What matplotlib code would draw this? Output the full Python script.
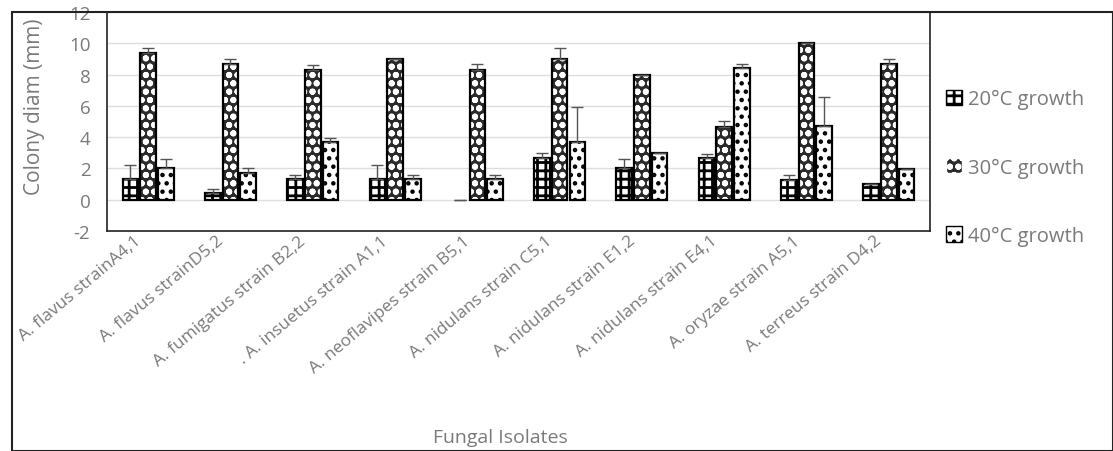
import numpy as np
import matplotlib
matplotlib.use("Agg")
import matplotlib.pyplot as plt
import matplotlib.transforms as mtransforms
from matplotlib.patches import Rectangle

isolates = ["A. flavus strainA4,1", "A. flavus strainD5,2", "A. fumigatus strain B2,2",
            ". A. insuetus strain A1,1", "A. neoflavipes strain B5,1", "A. nidulans strain C5,1",
            "A. nidulans strain E1,2", "A. nidulans strain E4,1", "A. oryzae strain A5,1",
            "A. terreus strain D4,2"]

growth_20 = [1.35, 0.4, 1.3, 1.3, 0.0, 2.65, 2.0, 2.65, 1.25, 1.0]
growth_30 = [9.35, 8.7, 8.3, 9.0, 8.3, 9.0, 8.0, 4.65, 10.0, 8.7]
growth_40 = [2.0, 1.7, 3.7, 1.3, 1.3, 3.7, 3.0, 8.4, 4.7, 1.95]

err_20 = [0.85, 0.3, 0.3, 0.9, 0.0, 0.35, 0.6, 0.3, 0.35, 0.0]
err_30 = [0.35, 0.3, 0.3, 0.0, 0.4, 0.7, 0.0, 0.4, 0.0, 0.3]
err_40 = [0.6, 0.3, 0.25, 0.3, 0.3, 2.2, 0.0, 0.3, 1.85, 0.0]

plt.rcParams['font.family'] = ['Open Sans', 'DejaVu Sans']
plt.rcParams['axes.unicode_minus'] = False
plt.rcParams['hatch.linewidth'] = 2.0
grey = '#7a7a7a'

fig = plt.figure(figsize=(11.13, 4.52), dpi=100)
fig.patches.append(Rectangle((12 / 1113, 0), 1 - 12 / 1113, 1 - 13 / 452,
                             transform=fig.transFigure, fill=False, edgecolor='#222222', linewidth=1.5))
ax = fig.add_axes([107 / 1113, 1 - 232 / 452, (930 - 107) / 1113, (232 - 13) / 452])

x = np.arange(len(isolates))
w = 0.19
off = 0.215
series = [
    (growth_20, err_20, -off, 'white', 'black', '++', '20°C growth'),
    (growth_30, err_30, 0.0, '#2b2b2b', 'white', 'oo', '30°C growth'),
    (growth_40, err_40, off, 'white', 'black', '..', '40°C growth'),
]
handles = []
for vals, errs, dx, face, hcol, hatch, label in series:
    lw = [1.6 if v > 0 else 0 for v in vals]
    ax.bar(x + dx, vals, w, color=face, edgecolor=hcol, hatch=hatch, linewidth=0, zorder=2)
    ax.bar(x + dx, vals, w, color='none', edgecolor='black', linewidth=lw, zorder=3,
           yerr=[np.zeros(len(errs)), errs], error_kw=dict(ecolor='#555555', elinewidth=1,
                                                           capsize=4, capthick=1))
    handles.append(ax.bar([0], [0], 0, color=face, edgecolor=hcol, hatch=hatch, label=label))

ax.set_xlim(-0.5, 9.5)
ax.set_ylim(-2, 12)
ax.set_yticks(range(-2, 13, 2))
ax.yaxis.grid(True, color='#dddddd', linewidth=1)
ax.set_axisbelow(True)
ax.tick_params(axis='y', length=0, labelsize=13.5, labelcolor=grey, pad=12)
ax.tick_params(axis='x', length=0, labelsize=12.5, labelcolor=grey, pad=1)
ax.set_xticks(x)
ax.set_xticklabels(isolates, rotation=40, ha='right', rotation_mode='anchor')
shift = mtransforms.ScaledTranslation(-14 / 100, 0, fig.dpi_scale_trans)
for lab in ax.get_xticklabels():
    lab.set_transform(lab.get_transform() + shift)
for s in ax.spines.values():
    s.set_color('#222222')
    s.set_linewidth(1.2)
ax.set_ylabel('Colony diam (mm)', fontsize=15, color=grey)
ax.yaxis.set_label_coords(-0.075, 0.57)
fig.text(500 / 1113, 0.01, 'Fungal Isolates', ha='center', va='bottom', fontsize=14, color=grey)

leg = fig.legend(handles=handles, loc='upper left', bbox_to_anchor=(928 / 1113, 1 - 72 / 452),
                 frameon=False, fontsize=14.5, labelcolor=grey, handlelength=0.8, handleheight=0.8,
                 handletextpad=0.3, labelspacing=2.4)

fig.savefig('out.png', dpi=100)
